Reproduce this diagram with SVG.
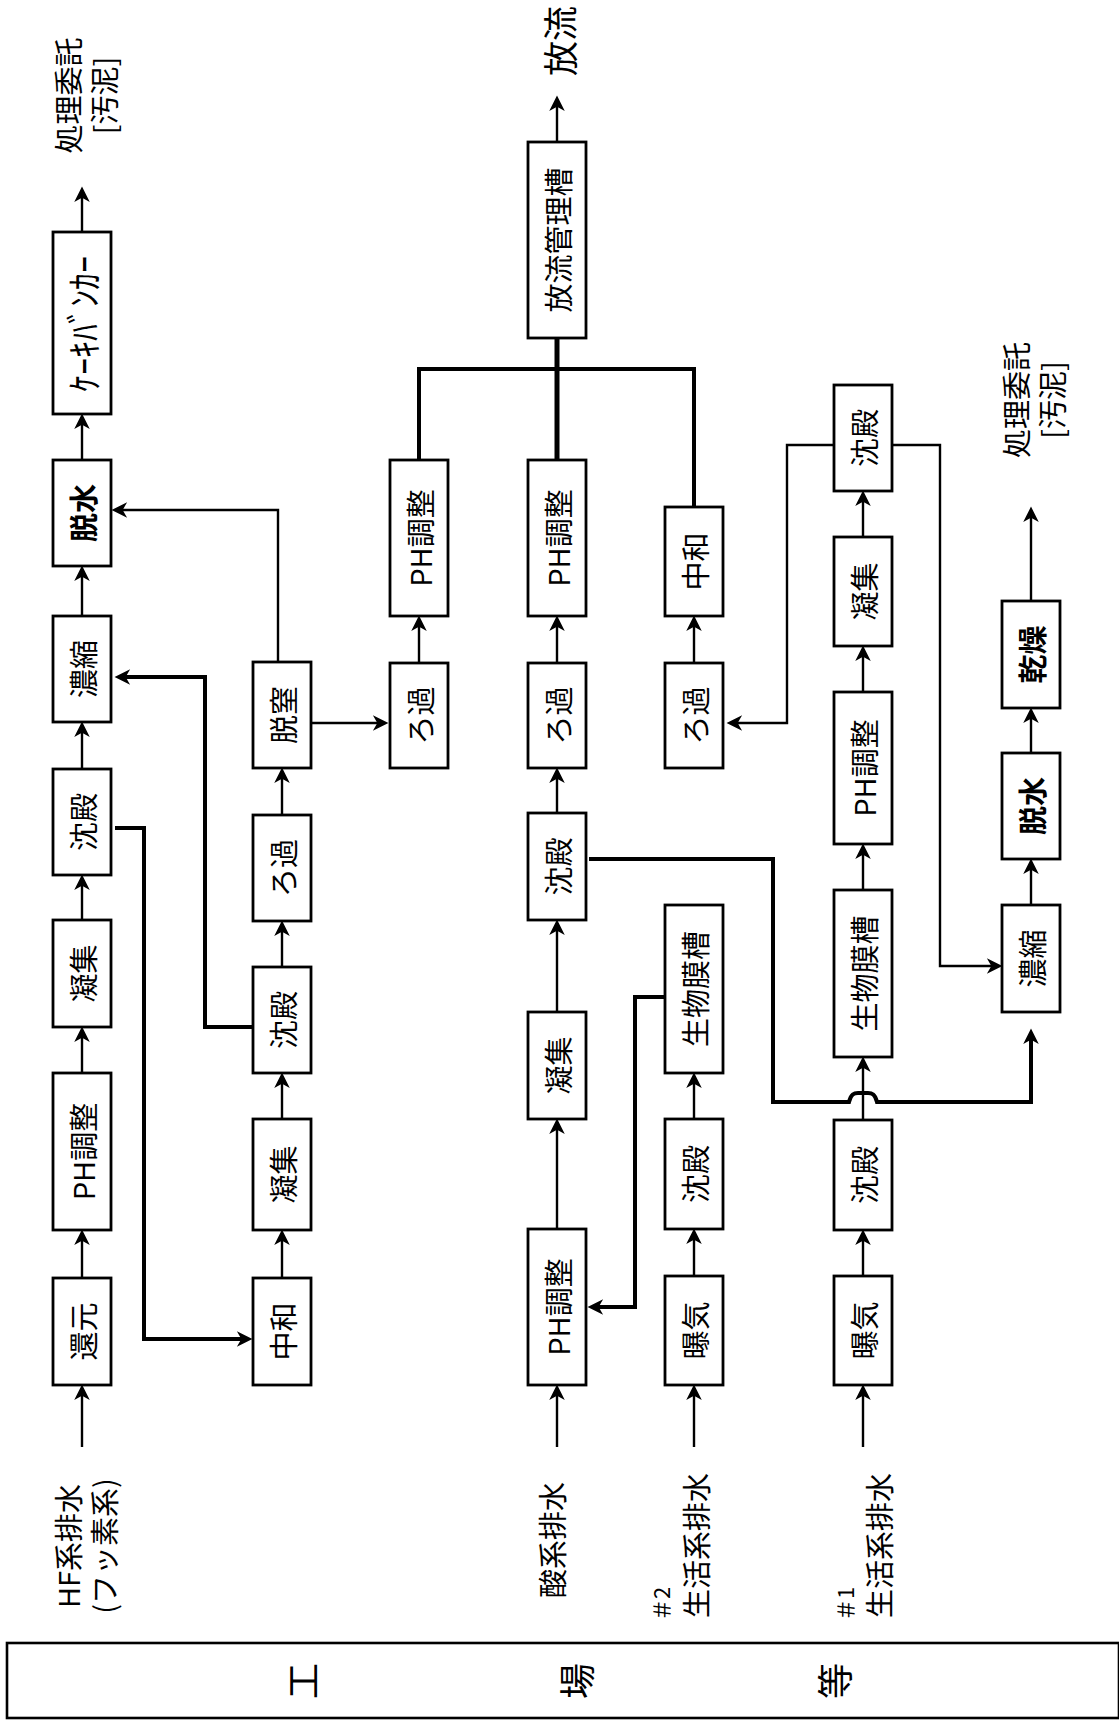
<svg xmlns="http://www.w3.org/2000/svg" width="1119" height="1728" viewBox="0 0 1119 1728">
<style>
  .box { fill: #fff; stroke: #000; stroke-width: 2.8; }
  .t { font-family: "Noto Sans CJK JP", "Noto Sans", sans-serif; font-size: 29px; text-anchor: middle; dominant-baseline: central; fill: #000; }
  .s { text-anchor: start; }
  .b { font-weight: bold; }
  .ln { fill: none; stroke: #000; stroke-width: 2.4; }
  .arr { marker-end: url(#ah); }
  .thk { stroke-width: 4; }
  .thk2 { stroke-width: 5; }
</style>
<defs>
  <marker id="ah" markerUnits="userSpaceOnUse" markerWidth="20" markerHeight="20" viewBox="-12 -8 18 16" refX="0" refY="0" orient="auto">
    <path d="M4,0 L-10,-7 L-6,0 L-10,7 Z" fill="#000"/>
  </marker>
</defs>
<rect width="1119" height="1728" fill="#fff"/>

<g id="connectors">
  <!-- column 1 -->
  <path class="ln arr" d="M82,1447 V1389"/>
  <path class="ln arr" d="M82,1278 V1234"/>
  <path class="ln arr" d="M82,1073 V1031"/>
  <path class="ln arr" d="M82,920 V879"/>
  <path class="ln arr" d="M82,769 V726"/>
  <path class="ln arr" d="M82,616 V570"/>
  <path class="ln arr" d="M82,460 V418"/>
  <path class="ln arr" d="M82,232 V191"/>
  <!-- column 2 -->
  <path class="ln arr" d="M282,1278 V1234"/>
  <path class="ln arr" d="M282,1119 V1077"/>
  <path class="ln arr" d="M282,967 V925"/>
  <path class="ln arr" d="M282,815 V772"/>
  <path class="ln arr" d="M278,662 V510 H116"/>
  <path class="ln thk arr" d="M115,828 H144 V1339 H248"/>
  <path class="ln thk arr" d="M253,1027 H205 V677 H119"/>
  <path class="ln arr" d="M311,723 H384"/>
  <!-- column 3 -->
  <path class="ln arr" d="M419,663 V620"/>
  <!-- junction to discharge tank -->
  <path class="ln thk" d="M419,460 V369 H694 V507"/>
  <path class="ln thk2" d="M557,460 V338"/>
  <path class="ln arr" d="M557,142 V100"/>
  <!-- column 4 -->
  <path class="ln arr" d="M557,1447 V1389"/>
  <path class="ln arr" d="M557,1229 V1123"/>
  <path class="ln arr" d="M557,1012 V924"/>
  <path class="ln arr" d="M557,813 V772"/>
  <path class="ln arr" d="M557,663 V620"/>
  <path class="ln thk arr" d="M589,859 H773 V1102 H849 C851,1094 854,1093 858,1093 H868 C872,1093 875,1094 877,1102 H1031 V1033"/>
  <!-- column 5 -->
  <path class="ln arr" d="M694,1447 V1389"/>
  <path class="ln arr" d="M694,1276 V1233"/>
  <path class="ln arr" d="M694,1119 V1077"/>
  <path class="ln arr" d="M694,663 V620"/>
  <path class="ln thk arr" d="M665,997 H635 V1307 H592"/>
  <!-- column 6 -->
  <path class="ln arr" d="M863,1447 V1389"/>
  <path class="ln arr" d="M863,1276 V1234"/>
  <path class="ln arr" d="M863,1120 V1061"/>
  <path class="ln arr" d="M863,890 V848"/>
  <path class="ln arr" d="M863,692 V650"/>
  <path class="ln arr" d="M863,537 V495"/>
  <path class="ln arr" d="M834,445 H787 V723 H731"/>
  <path class="ln arr" d="M892,445 H940 V966 H998"/>
  <!-- column 7 -->
  <path class="ln arr" d="M1031,905 V863"/>
  <path class="ln arr" d="M1031,753 V712"/>
  <path class="ln arr" d="M1031,601 V511"/>
</g>

<!-- column 1 -->
<g id="n_cake"><rect class="box" x="53" y="232" width="58" height="182"/>
  <text class="t" transform="translate(82,324) rotate(-90)" style="font-size:36px" textLength="136" lengthAdjust="spacingAndGlyphs">ｹｰｷﾊﾞﾝｶｰ</text></g>
<g id="n_dehyd1"><rect class="box" x="53" y="460" width="58" height="106"/>
  <text class="t b" transform="translate(82,513) rotate(-90)">脱水</text></g>
<g id="n_thick1"><rect class="box" x="53" y="616" width="58" height="106"/>
  <text class="t" transform="translate(82,669) rotate(-90)">濃縮</text></g>
<g id="n_sed1"><rect class="box" x="53" y="769" width="58" height="106"/>
  <text class="t" transform="translate(82,822) rotate(-90)">沈殿</text></g>
<g id="n_coag1"><rect class="box" x="53" y="920" width="58" height="107"/>
  <text class="t" transform="translate(82,973.5) rotate(-90)">凝集</text></g>
<g id="n_ph1"><rect class="box" x="53" y="1073" width="58" height="157"/>
  <text class="t" transform="translate(82,1151.5) rotate(-90)">PH調整</text></g>
<g id="n_red"><rect class="box" x="53" y="1278" width="58" height="107"/>
  <text class="t" transform="translate(82,1331.5) rotate(-90)">還元</text></g>

<!-- column 2 -->
<g id="n_denit"><rect class="box" x="253" y="662" width="58" height="106"/>
  <text class="t" transform="translate(282,715) rotate(-90)">脱窒</text></g>
<g id="n_filt2"><rect class="box" x="253" y="815" width="58" height="106"/>
  <text class="t" transform="translate(282,868) rotate(-90)">ろ過</text></g>
<g id="n_sed2"><rect class="box" x="253" y="967" width="58" height="106"/>
  <text class="t" transform="translate(282,1020) rotate(-90)">沈殿</text></g>
<g id="n_coag2"><rect class="box" x="253" y="1119" width="58" height="111"/>
  <text class="t" transform="translate(282,1174.5) rotate(-90)">凝集</text></g>
<g id="n_neut2"><rect class="box" x="253" y="1278" width="58" height="107"/>
  <text class="t" transform="translate(282,1331.5) rotate(-90)">中和</text></g>

<!-- column 3 -->
<g id="n_ph3"><rect class="box" x="390" y="460" width="58" height="156"/>
  <text class="t" transform="translate(419,538) rotate(-90)">PH調整</text></g>
<g id="n_filt3"><rect class="box" x="390" y="663" width="58" height="105"/>
  <text class="t" transform="translate(419,715.5) rotate(-90)">ろ過</text></g>

<!-- column 4 -->
<g id="n_tank"><rect class="box" x="528" y="142" width="58" height="196"/>
  <text class="t" transform="translate(557,240) rotate(-90)">放流管理槽</text></g>
<g id="n_ph4"><rect class="box" x="528" y="460" width="58" height="156"/>
  <text class="t" transform="translate(557,538) rotate(-90)">PH調整</text></g>
<g id="n_filt4"><rect class="box" x="528" y="663" width="58" height="105"/>
  <text class="t" transform="translate(557,715.5) rotate(-90)">ろ過</text></g>
<g id="n_sed4"><rect class="box" x="528" y="813" width="58" height="107"/>
  <text class="t" transform="translate(557,866.5) rotate(-90)">沈殿</text></g>
<g id="n_coag4"><rect class="box" x="528" y="1012" width="58" height="107"/>
  <text class="t" transform="translate(557,1065.5) rotate(-90)">凝集</text></g>
<g id="n_ph4b"><rect class="box" x="528" y="1229" width="58" height="156"/>
  <text class="t" transform="translate(557,1307) rotate(-90)">PH調整</text></g>

<!-- column 5 -->
<g id="n_neut5"><rect class="box" x="665" y="507" width="58" height="109"/>
  <text class="t" transform="translate(694,561.5) rotate(-90)">中和</text></g>
<g id="n_filt5"><rect class="box" x="665" y="663" width="58" height="105"/>
  <text class="t" transform="translate(694,715.5) rotate(-90)">ろ過</text></g>
<g id="n_bio5"><rect class="box" x="665" y="905" width="58" height="168"/>
  <text class="t" transform="translate(694,989) rotate(-90)">生物膜槽</text></g>
<g id="n_sed5"><rect class="box" x="665" y="1119" width="58" height="110"/>
  <text class="t" transform="translate(694,1174) rotate(-90)">沈殿</text></g>
<g id="n_aer5"><rect class="box" x="665" y="1276" width="58" height="109"/>
  <text class="t" transform="translate(694,1330.5) rotate(-90)">曝気</text></g>

<!-- column 6 -->
<g id="n_sed6a"><rect class="box" x="834" y="385" width="58" height="106"/>
  <text class="t" transform="translate(863,438) rotate(-90)">沈殿</text></g>
<g id="n_coag6"><rect class="box" x="834" y="537" width="58" height="109"/>
  <text class="t" transform="translate(863,591.5) rotate(-90)">凝集</text></g>
<g id="n_ph6"><rect class="box" x="834" y="692" width="58" height="152"/>
  <text class="t" transform="translate(863,768) rotate(-90)">PH調整</text></g>
<g id="n_bio6"><rect class="box" x="834" y="890" width="58" height="167"/>
  <text class="t" transform="translate(863,973.5) rotate(-90)">生物膜槽</text></g>
<g id="n_sed6b"><rect class="box" x="834" y="1120" width="58" height="110"/>
  <text class="t" transform="translate(863,1175) rotate(-90)">沈殿</text></g>
<g id="n_aer6"><rect class="box" x="834" y="1276" width="58" height="109"/>
  <text class="t" transform="translate(863,1330.5) rotate(-90)">曝気</text></g>

<!-- column 7 -->
<g id="n_dry"><rect class="box" x="1002" y="601" width="58" height="107"/>
  <text class="t b" transform="translate(1031,654.5) rotate(-90)">乾燥</text></g>
<g id="n_dehyd7"><rect class="box" x="1002" y="753" width="58" height="106"/>
  <text class="t b" transform="translate(1031,806) rotate(-90)">脱水</text></g>
<g id="n_thick7"><rect class="box" x="1002" y="905" width="58" height="107"/>
  <text class="t" transform="translate(1031,958.5) rotate(-90)">濃縮</text></g>

<!-- terminal labels -->
<g id="out_sludge1"><text class="t" transform="translate(84.5,95.5) rotate(-90)"><tspan x="0" y="-18">処理委託</tspan><tspan x="0" y="18">[汚泥]</tspan></text></g>
<g id="out_discharge"><text class="t" transform="translate(558,41) rotate(-90)" style="font-size:35px">放流</text></g>
<g id="out_sludge2"><text class="t" transform="translate(1033,400) rotate(-90)"><tspan x="0" y="-18">処理委託</tspan><tspan x="0" y="18">[汚泥]</tspan></text></g>
<g id="in_hf"><text class="t" transform="translate(85,1546) rotate(-90)"><tspan x="0" y="-18">HF系排水</tspan><tspan x="0" y="18">(フッ素系)</tspan></text></g>
<g id="in_acid"><text class="t" transform="translate(550.5,1540) rotate(-90)">酸系排水</text></g>
<g id="in_life2"><text class="t s" transform="translate(660,1621) rotate(-90)" style="font-size:22px">＃2</text>
  <text class="t s" transform="translate(695,1618) rotate(-90)">生活系排水</text></g>
<g id="in_life1"><text class="t s" transform="translate(843.5,1621) rotate(-90)" style="font-size:22px">＃1</text>
  <text class="t s" transform="translate(877.5,1618) rotate(-90)">生活系排水</text></g>

<g id="factory"><rect x="7" y="1643" width="1112" height="75" fill="none" stroke="#000" stroke-width="2.6"/>
  <text class="t" transform="translate(301,1681) rotate(-90)" style="font-size:36px">工</text>
  <text class="t" transform="translate(575,1681) rotate(-90)" style="font-size:36px">場</text>
  <text class="t" transform="translate(833,1681) rotate(-90)" style="font-size:36px">等</text></g>
</svg>
